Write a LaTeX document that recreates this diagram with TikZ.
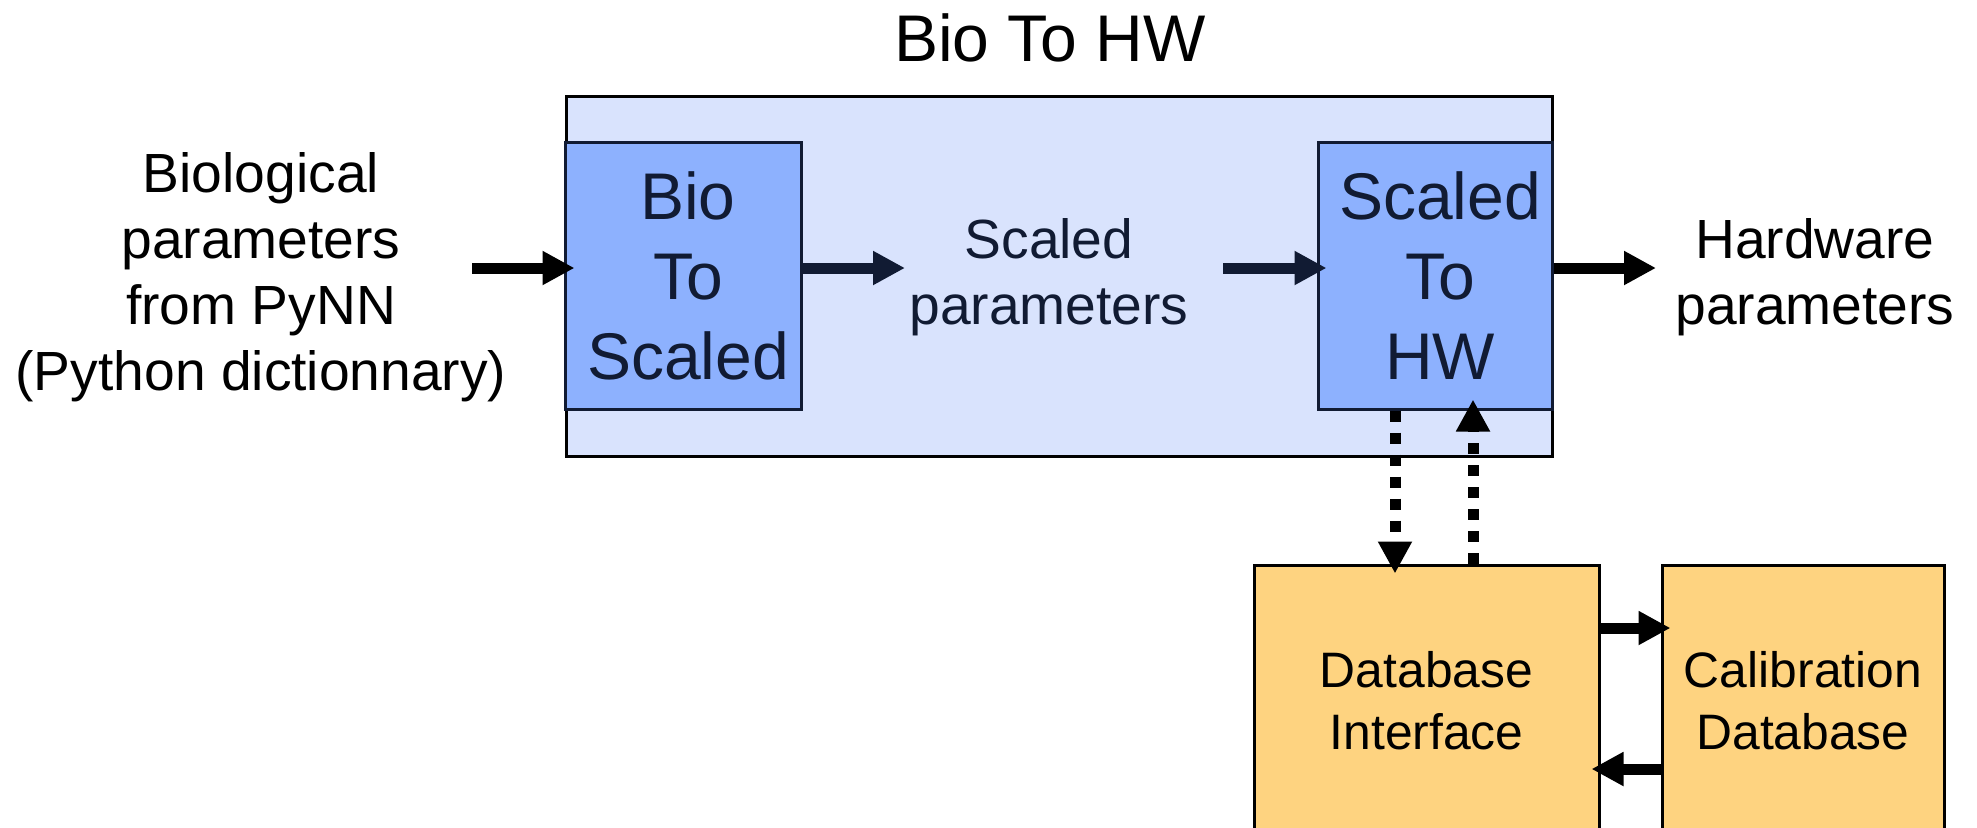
\documentclass[tikz,border=0pt]{standalone}
\usepackage{fontspec}
\setmainfont{Liberation Sans}
\usetikzlibrary{arrows.meta,calc}
\definecolor{outerfill}{RGB}{217,227,253}
\definecolor{innerfill}{RGB}{141,177,254}
\definecolor{dbfill}{RGB}{254,211,128}
\definecolor{navy}{RGB}{17,27,51}
\tikzset{
  outerbox/.style={draw=black, fill=outerfill, line width=1.5pt, inner sep=0pt, rectangle},
  innerbox/.style={draw=navy, fill=innerfill, line width=1.5pt, inner sep=0pt, rectangle},
  innertext/.style={align=center, text=navy, inner sep=0pt, xshift=2.5pt,
    font=\fontsize{33pt}{40pt}\selectfont},
  dbbox/.style={draw=black, fill=dbfill, line width=1.5pt, inner sep=0pt, rectangle, align=center,
    font=\fontsize{24.9pt}{31pt}\selectfont},
  lbl/.style={align=center, inner sep=0pt, font=\fontsize{27.6pt}{33pt}\selectfont},
  fatarr/.style={line width=5.5pt, -{Triangle[length=16pt,width=16pt]}},
  dotarr/.style={line width=5.5pt, dash pattern=on 5.5pt off 5.5pt, -{Triangle[length=16pt,width=16pt]}},
}
\begin{document}
\begin{tikzpicture}[x=0.5pt,y=-0.5pt]
\useasboundingbox (0,0) rectangle (1977,827);
\clip (0,0) rectangle (1977,827);
% title
\node[anchor=base, inner sep=0pt, font=\fontsize{33pt}{39pt}\selectfont] (title) at (1050,61) {Bio To HW};
% outer box
\node[outerbox, minimum width=493pt, minimum height=180pt] (outer) at (1059,276) {};
% inner boxes
\node[innerbox, minimum width=118pt, minimum height=133.5pt,
  label={[innertext]center:{Bio\\To\\Scaled}}] (b2s) at (683,275.5) {};
\node[innerbox, minimum width=117pt, minimum height=133.5pt,
  label={[innertext]center:{Scaled\\To\\HW}}] (s2h) at (1435,275.5) {};
% database boxes
\node[dbbox, minimum width=172.5pt, minimum height=136pt] (dbi) at (1426.5,701) {Database\\Interface};
\node[dbbox, minimum width=141pt, minimum height=136pt] (cal) at (1803,701) {Calibration\\Database};
% labels
\node[lbl] (bio) at (261,277) {Biological\\parameters\\from PyNN\\(Python dictionnary)};
\node[lbl, text=navy] (sp) at (1049,277.5) {Scaled\\parameters};
\node[lbl] (hw) at (1815,277.5) {Hardware\\parameters};
% helper coordinates (free arrow ends)
\coordinate (ay) at (0,268);
\coordinate (inStart) at (472,268);
\coordinate (spIn) at (905,268);
\coordinate (spOut) at (1223,268);
\coordinate (hwIn) at (1656,268);
\coordinate (dn) at (1395,0);
\coordinate (up) at (1473,0);
\coordinate (r1) at (0,628);
\coordinate (r2) at (0,769);
% horizontal arrows
\draw[fatarr, black] (inStart) -- ([xshift=5.5pt]b2s.west |- ay);
\draw[fatarr, navy] (b2s.east |- ay) -- (spIn);
\draw[fatarr, navy] (spOut) -- ([xshift=5pt]s2h.west |- ay);
\draw[fatarr, black] (s2h.east |- ay) -- (hwIn);
% dotted arrows
\draw[dotarr] (s2h.south -| dn) -- ([yshift=-5pt]dbi.north -| dn);
\draw[dotarr] (dbi.north -| up) -- ([yshift=5.5pt]s2h.south -| up);
% database arrows
\draw[fatarr] (dbi.east |- r1) -- ([xshift=5pt]cal.west |- r1);
\draw[fatarr] (cal.west |- r2) -- ([xshift=-4.5pt]dbi.east |- r2);
\end{tikzpicture}
\end{document}
